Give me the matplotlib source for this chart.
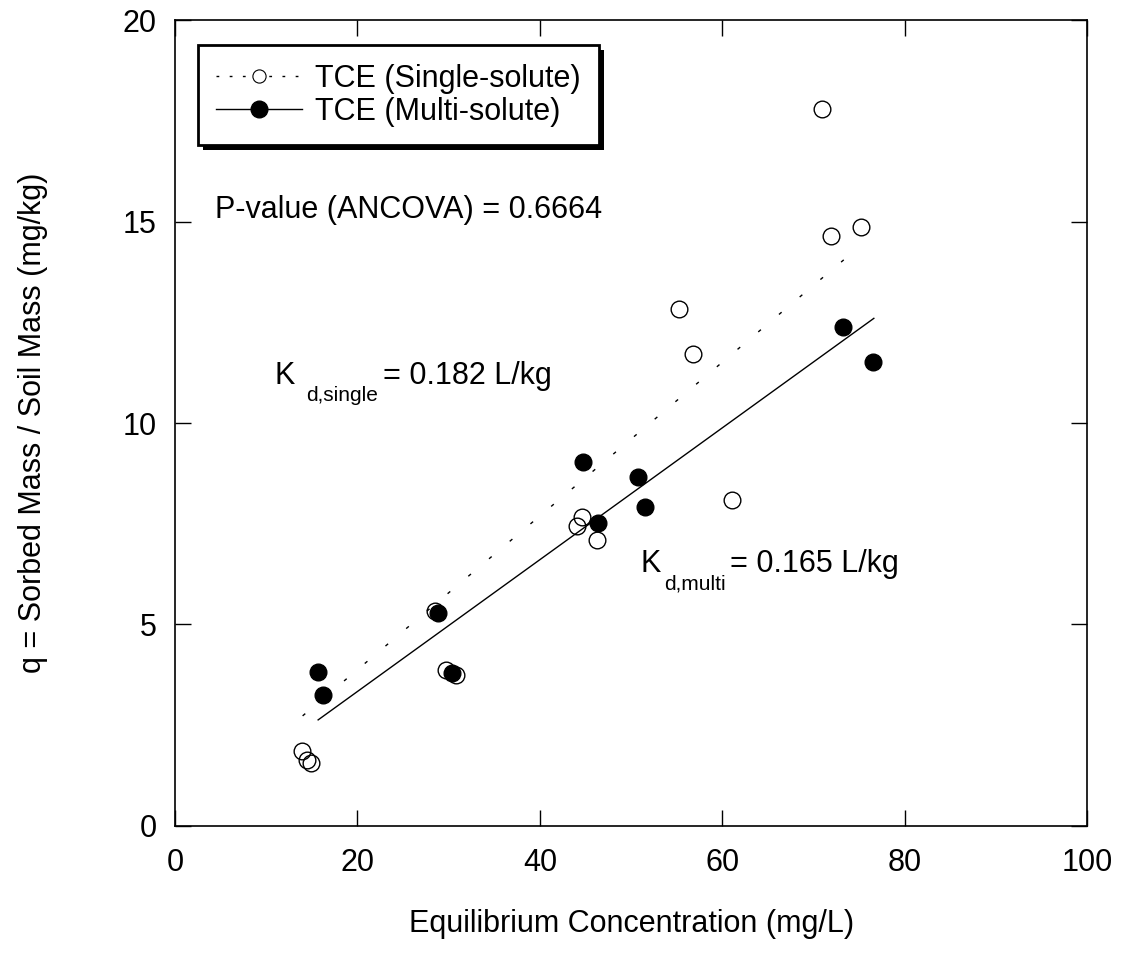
import matplotlib
matplotlib.use("Agg")
import matplotlib.pyplot as plt
from matplotlib.patches import Rectangle

plt.rcParams['font.family'] = ['Liberation Sans', 'DejaVu Sans']

# TCE single-solute (open circles)
single_x = [13.9, 14.5, 14.9, 28.5, 29.7, 30.8, 44.1, 44.6, 46.3, 55.3, 56.8, 61.1, 70.9, 71.9, 75.2]
single_y = [1.86, 1.64, 1.56, 5.33, 3.87, 3.75, 7.45, 7.67, 7.10, 12.83, 11.71, 8.09, 17.80, 14.64, 14.86]

# TCE multi-solute (filled circles)
multi_x = [15.7, 16.2, 28.8, 30.4, 44.7, 46.4, 50.7, 51.5, 73.2, 76.5]
multi_y = [3.82, 3.25, 5.28, 3.80, 9.03, 7.52, 8.66, 7.92, 12.38, 11.51]

# linear fit end points
fit_single_x = [14.0, 74.6]
fit_single_y = [2.73, 14.30]
fit_multi_x = [15.7, 76.6]
fit_multi_y = [2.63, 12.60]

FS = 22

fig = plt.figure(figsize=(11.21, 9.67), dpi=100)
ax = fig.add_axes([0.156, 0.146, 0.814, 0.833])

ax.plot(fit_single_x, fit_single_y, color='black', linestyle=(0, (2.5, 17)), linewidth=1.0)
ax.plot(fit_multi_x, fit_multi_y, color='black', linestyle='-', linewidth=1.0)
ax.plot(single_x, single_y, linestyle='none', marker='o', markersize=12,
        markerfacecolor='none', markeredgecolor='black', markeredgewidth=1.0)
ax.plot(multi_x, multi_y, linestyle='none', marker='o', markersize=12,
        markerfacecolor='black', markeredgecolor='black')

# legend handles
h1, = ax.plot([], [], color='black', linestyle=(0, (2, 7.5)), linewidth=1.0, marker='o',
              markersize=9.5, markerfacecolor='white', markeredgecolor='black', markeredgewidth=0.8)
h2, = ax.plot([], [], color='black', linestyle='-', linewidth=1.0, marker='o',
              markersize=12, markerfacecolor='black', markeredgecolor='black')
leg = ax.legend([h1, h2], ['TCE (Single-solute)', 'TCE (Multi-solute)'],
                loc='upper left', bbox_to_anchor=(0.025, 0.969), borderaxespad=0,
                fontsize=FS, fancybox=False, frameon=True, handlelength=2.8,
                handletextpad=0.45, borderpad=0.6, labelspacing=0.1)
leg.get_frame().set_edgecolor('black')
leg.get_frame().set_linewidth(2.0)
leg.get_frame().set_alpha(1)

ax.text(4.4, 15.1, 'P-value (ANCOVA) = 0.6664', fontsize=FS, va='baseline', ha='left')

# K_d labels built from pieces so the subscript can be larger than mathtext allows
k_pos = [(10.96, 10.97), (51.0, 6.30)]
k_sub = ['d,single', 'd,multi']
k_val = ['= 0.182 L/kg', '= 0.165 L/kg']
sub_dx = [31, 24]
val_dx = [108, 90]
for (kx, ky), sub, val, sdx, vdx in zip(k_pos, k_sub, k_val, sub_dx, val_dx):
    ax.text(kx, ky, 'K', fontsize=FS, ha='left', va='baseline')
    ax.annotate(sub, (kx, ky), xytext=(sdx, -17), textcoords='offset pixels',
                fontsize=15, ha='left', va='baseline')
    ax.annotate(val, (kx, ky), xytext=(vdx, 0), textcoords='offset pixels',
                fontsize=FS, ha='left', va='baseline')

ax.set_xlim(0, 100)
ax.set_ylim(0, 20)
ax.set_xticks([0, 20, 40, 60, 80, 100])
ax.set_yticks([0, 5, 10, 15, 20])
ax.tick_params(direction='in', length=11.5, width=1.0, top=True, right=True,
               labelsize=FS, pad=13)
ax.tick_params(axis='x', pad=16)
for s in ax.spines.values():
    s.set_linewidth(1.2)

ax.set_xlabel('Equilibrium Concentration (mg/L)', fontsize=FS, labelpad=22)
ax.set_ylabel('q = Sorbed Mass / Soil Mass (mg/kg)', fontsize=FS)
ax.yaxis.set_label_coords(-0.139, 0.5)

# solid black drop shadow behind the legend box
fig.canvas.draw()
bb = leg.get_frame().get_window_extent()
shadow = Rectangle((bb.x0 + 5, bb.y0 - 5), bb.width, bb.height, transform=None,
                   facecolor='black', edgecolor='none', zorder=4)
ax.add_artist(shadow)
leg.set_zorder(6)

fig.savefig('out.png', dpi=100)
